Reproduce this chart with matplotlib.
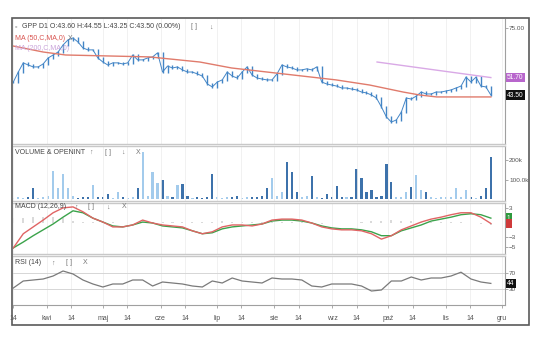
import matplotlib

matplotlib.use("Agg")
import matplotlib.dates as mdates
import matplotlib.pyplot as plt
import numpy as np
import pandas as pd
from matplotlib.patches import Rectangle
from matplotlib.ticker import FuncFormatter

plt.rcParams["font.family"] = ["Liberation Sans", "DejaVu Sans"]

# ------------------------------------------------------------------ data
# closes, GPP D1
close = [
    49.6, 54.3, 58.6, 57.6, 56.7, 56.7, 58.1, 60.9, 62.3, 63.7,
    67.0, 69.4, 70.3, 68.4, 65.6, 64.7, 64.7, 60.9, 59.0, 57.6,
    58.6, 58.6, 58.1, 58.6, 62.3, 60.0, 60.0, 60.9, 61.4, 63.3,
    54.3, 57.1, 56.2, 56.7, 55.3, 54.3, 54.3, 53.4, 52.4, 48.7,
    47.3, 49.6, 50.6, 54.3, 52.4, 51.5, 54.3, 56.7, 52.9, 51.5,
    51.0, 50.6, 50.6, 53.4, 57.6, 56.7, 56.2, 55.3, 55.3, 55.8,
    55.3, 56.7, 49.6, 48.7, 48.2, 47.7, 46.8, 46.8, 46.3, 45.9,
    44.9, 44.5, 43.5, 42.1, 37.9, 33.2, 30.8, 31.8, 35.5, 42.1,
    41.6, 43.0, 44.9, 44.0, 44.0, 44.9, 44.9, 45.4, 45.9, 46.8,
    47.7, 51.9, 49.6, 51.9, 47.7, 47.3, 43.5,
]
volume_k = [
    8, 10, 6, 12, 56, 8, 10, 15, 144, 60,
    128, 56, 20, 8, 10, 12, 72, 10, 14, 30,
    8, 40, 10, 6, 12, 56, 240, 20, 138, 82,
    97, 15, 10, 72, 77, 20, 8, 10, 6, 12,
    128, 10, 8, 12, 10, 15, 8, 12, 10, 14,
    18, 60, 108, 20, 40, 190, 138, 36, 12, 15,
    118, 10, 8, 30, 12, 66, 10, 14, 12, 154,
    108, 36, 46, 12, 20, 180, 87, 14, 10, 36,
    62, 123, 46, 36, 10, 8, 12, 10, 14, 56,
    12, 46, 10, 8, 20, 56, 215,
]
ma50_dates = ["2015-03-14", "2015-03-30", "2015-04-11", "2015-05-26", "2015-06-22",
              "2015-07-09", "2015-07-28", "2015-08-16", "2015-09-03", "2015-09-21",
              "2015-10-09", "2015-10-18", "2015-10-27", "2015-11-25"]
ma50 = [66.5, 63.7, 62.3, 61.4, 59.0, 56.2, 54.3, 52.4, 50.6, 48.2,
        44.9, 43.5, 42.6, 42.6]
ma200_dates = ["2015-09-25", "2015-10-25", "2015-11-25"]
ma200 = [59.0, 55.4, 51.7]

macd = [
    -5.2, -2.3, -0.9, 0.5, 2.0, 3.0, 3.2, 2.2, 0.9, 0.1,
    -0.9, -0.9, -0.5, 0.5, -0.1, -0.5, -0.7, -0.9, -1.7, -2.3,
    -1.9, -0.9, -0.5, -0.5, -0.7, -0.3, 0.5, 0.7, 0.7, 0.5,
    -0.1, -0.9, -1.3, -1.5, -1.5, -1.7, -2.3, -3.4, -2.7, -1.5,
    -0.7, 0.1, 0.7, 1.1, 1.6, 2.0, 2.0, 1.1, -0.2,
]
signal = [
    -5.2, -4.0, -2.7, -1.5, -0.3, 1.1, 2.4, 2.0, 0.9, 0.1,
    -0.7, -0.9, -0.5, 0.1, -0.1, -0.7, -0.9, -1.1, -1.7, -2.3,
    -2.1, -1.3, -0.9, -0.7, -0.5, -0.3, 0.3, 0.5, 0.5, 0.3,
    -0.1, -0.7, -1.1, -1.3, -1.3, -1.5, -1.9, -2.7, -2.7, -1.7,
    -1.1, -0.5, 0.3, 0.7, 1.1, 1.6, 1.8, 1.6, 0.9,
]
hist = [
    0.9, 1.0, 1.1, 1.2, 1.1, 1.0, 0.4, 0.2, 0.1, 0.1,
    0.1, 0.0, -0.1, 0.2, 0.1, 0.1, 0.1, 0.1, 0.2, 0.1,
    0.2, 0.3, 0.2, 0.1, 0.1, 0.1, 0.2, 0.2, 0.2, 0.1,
    -0.2, -0.3, -0.2, -0.2, -0.1, 0.1, 0.3, 0.4, 0.5, 0.4,
    0.3, 0.2, 0.2, 0.1, 0.2, 0.1, -0.1, -0.3, -0.5,
]
rsi = [
    32.5, 50, 52.5, 55, 62.5, 75, 67.5, 52.5, 42.5, 35,
    42.5, 42.5, 52.5, 52.5, 37.5, 47.5, 45, 42.5, 37.5, 35,
    50, 45, 57.5, 50, 47.5, 45, 57.5, 55, 55, 52.5,
    37.5, 35, 42.5, 42.5, 42.5, 37.5, 25, 27.5, 50, 50,
    60, 52.5, 57.5, 57.5, 62.5, 72, 55, 47.5, 44,
]
MONTHS_PL = ["sty", "lut", "mar", "kwi", "maj", "cze", "lip", "sie", "wrz", "paź", "lis", "gru"]

dates = pd.date_range("2015-03-14", "2015-11-25", periods=len(close))
ind_dates = pd.date_range("2015-03-14", "2015-11-25", periods=len(macd))
close = np.array(close)
opens = np.r_[close[0], close[:-1]]

# ------------------------------------------------------------------ layout
W, H = 536, 344
fig = plt.figure(figsize=(W / 100, H / 100), dpi=100)
fig.patch.set_facecolor("white")


def box(top, bottom, left=13, right=505):
    return [left / W, 1 - bottom / H, (right - left) / W, (bottom - top) / H]


ax_p = fig.add_axes(box(19, 144))
ax_v = fig.add_axes(box(146, 201), sharex=ax_p)
ax_m = fig.add_axes(box(203, 254), sharex=ax_p)
ax_r = fig.add_axes(box(256, 305), sharex=ax_p)
axes = [ax_p, ax_v, ax_m, ax_r]

GRID = "#efefef"
TXT = "#555555"
for ax in axes:
    for s in ax.spines.values():
        s.set_visible(False)
    ax.spines["right"].set_visible(True)
    ax.spines["right"].set_color("#a0a0a0")
    ax.spines["right"].set_linewidth(0.8)
    ax.yaxis.tick_right()
    ax.tick_params(axis="y", length=2, width=0.5, colors="#888888", labelsize=4.6,
                   pad=1, labelcolor=TXT)
    ax.tick_params(axis="x", length=0, labelbottom=False)
    ax.grid(axis="x", color=GRID, lw=0.6)
for ax in axes[1:]:
    ax.spines["top"].set_visible(True)
    ax.spines["top"].set_color("#c8c8c8")
    ax.spines["top"].set_linewidth(1.0)
for ax in axes[:-1]:
    ax.spines["bottom"].set_visible(True)
    ax.spines["bottom"].set_color("#c8c8c8")
    ax.spines["bottom"].set_linewidth(1.0)

# price
blue = "#4385c6"
ax_p.vlines(dates, np.minimum(opens, close) - 0.6, np.maximum(opens, close) + 0.6,
            color=blue, lw=1.0)
ax_p.plot(dates, close, color=blue, lw=0.7)
ax_p.plot(pd.to_datetime(ma50_dates), ma50, color="#e07b6c", lw=1.0)
ax_p.plot(pd.to_datetime(ma200_dates), ma200, color="#d9a9e6", lw=1.0)
ax_p.set_ylim(20.5, 79.2)
ax_p.set_yticks([75])
ax_p.yaxis.set_major_formatter(FuncFormatter(lambda v, p: f"{v:.2f}"))

# volume
vol_col = np.where(close >= opens, "#a3cbec", "#3d72ab")
ax_v.bar(dates, np.array(volume_k) * 1000, width=1.2, color=vol_col, lw=0)
ax_v.set_ylim(-8000, 272000)
ax_v.set_yticks([100000, 200000])
ax_v.set_yticklabels(["100.0k", "200k"])

# macd
ax_m.bar(ind_dates, hist, width=1.1, color="#dadada", lw=0)
ax_m.plot(ind_dates, signal, color="#3ba34b", lw=1.0)
ax_m.plot(ind_dates, macd, color="#e06464", lw=1.0)
ax_m.set_ylim(-6.45, 4.0)
ax_m.set_yticks([3, -3, -5])

# rsi
ax_r.axhline(70, color="#d6d6d6", lw=0.7)
ax_r.axhline(30, color="#d6d6d6", lw=0.7)
ax_r.plot(ind_dates, rsi, color="#7a7a7a", lw=0.9)
ax_r.set_ylim(-10, 112.5)
ax_r.set_yticks([70, 30])
ax_r.spines["bottom"].set_visible(True)
ax_r.spines["bottom"].set_color("#a0a0a0")
ax_r.spines["bottom"].set_linewidth(0.8)

# x axis
ax_p.set_xlim(pd.Timestamp("2015-03-13 20:00"), pd.Timestamp("2015-12-02 14:00"))
ax_r.xaxis.set_major_locator(mdates.DayLocator(bymonthday=[1, 14]))
ax_r.xaxis.set_major_formatter(
    FuncFormatter(lambda v, p: MONTHS_PL[mdates.num2date(v).month - 1]
                  if mdates.num2date(v).day == 1 else "14"))
ax_r.tick_params(axis="x", length=2, width=0.5, colors="#888888", labelsize=5,
                 labelcolor=TXT, labelbottom=True, pad=5)


# value boxes on the right axis
def tag(ax, y, text, face, fg="white"):
    ax.text(1.004, y, text, transform=ax.get_yaxis_transform(), fontsize=4.8,
            color=fg, va="center", ha="left",
            bbox=dict(boxstyle="square,pad=0.2", fc=face, ec="none"))


tag(ax_p, ma200[-1], f"{ma200[-1]:.2f}", "#b866cc")
tag(ax_p, close[-1], f"{close[-1]:.2f}", "#111111")
tag(ax_m, signal[-1], f"{signal[-1]:.0f}", "#2e9a3e")
tag(ax_m, macd[-1], "  ", "#cf3a3a")
tag(ax_r, rsi[-1], f"{rsi[-1]:.0f}", "#111111")


# headers
def ftext(x, y, s, color="#444444", size=5):
    fig.text(x / W, 1 - y / H, s, color=color, fontsize=size, va="center", ha="left")


ftext(15, 27, "▫", color="#999999")
ftext(22, 27, "GPP D1 O:43.60 H:44.55 L:43.25 C:43.50 (0.00%)")
ftext(191, 27, "[ ]", color="#777777")
ftext(209, 27, "↓", color="#777777")
ftext(15, 38, "MA (50,C,MA,0)", color="#d9534f")
ftext(68, 38, "X", color="#777777")
ftext(15, 48, "MA (200,C,MA,0)", color="#c9a3da")

for y, label, icons in [
    (152, "VOLUME & OPENINT", [(89, "↑"), (105, "[ ]"), (121, "↓"), (136, "X")]),
    (207, "MACD (12,26,9)", [(74, "↑"), (88, "[ ]"), (106, "↓"), (122, "X")]),
    (263, "RSI (14)", [(51, "↑"), (66, "[ ]"), (83, "X")]),
]:
    ftext(15, y, label)
    for x, ic in icons:
        ftext(x, y, ic, color="#777777")

# outer frame
fig.add_artist(Rectangle((12 / W, 1 - 325 / H), 517 / W, 307 / H, fill=False,
                         ec="#5a5a5a", lw=1.2, transform=fig.transFigure))

fig.savefig("out.png", dpi=100)
